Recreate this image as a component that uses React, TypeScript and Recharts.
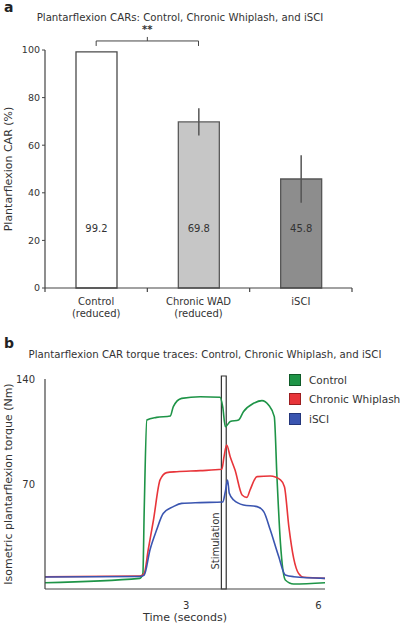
import React from 'react';
import {
  BarChart,
  Bar,
  Cell,
  ErrorBar,
  LabelList,
  LineChart,
  Line,
  XAxis,
  YAxis,
  ReferenceLine,
  ReferenceArea,
} from 'recharts';

const FONT = '"DejaVu Sans", sans-serif';

// panel a
const groups = ['Control', 'Chronic WAD', 'iSCI'];
const groupSub = ['(reduced)', '(reduced)', ''];
const carValues = [99.2, 69.8, 45.8];
const carErrors = [0, 5.7, 10];
const barFills = ['#ffffff', '#c6c6c6', '#8d8d8d'];
const barStrokes = ['#4a4a4a', '#5a5a5a', '#555555'];
const carTicks = [0, 20, 40, 60, 80, 100];

// panel b
const controlT = [-0.2, 1.95, 2.02, 2.05, 2.11, 2.33, 2.64, 2.71, 2.9, 3.32, 3.77, 3.83, 3.89, 4.0, 4.19, 4.3, 4.53, 4.72, 4.87, 5.0, 5.06, 5.14, 5.25, 5.44, 6.16];
const controlNm = [4.2, 7.1, 10.4, 52.7, 112.7, 114.4, 115.3, 121.6, 127.1, 128.2, 127.8, 121.6, 108.2, 111.6, 112.7, 118.2, 123.8, 125.6, 122.7, 114.9, 74.9, 30.4, 6.0, 3.3, 4.2];
const whiplashT = [-0.2, 1.95, 2.05, 2.14, 2.26, 2.41, 2.56, 2.79, 3.32, 3.81, 3.86, 3.92, 4.0, 4.11, 4.27, 4.38, 4.45, 4.61, 4.91, 5.14, 5.23, 5.33, 5.44, 5.55, 5.67, 6.16];
const whiplashNm = [8.2, 8.7, 10.4, 26, 46, 72.7, 77.6, 78.2, 78.9, 79.8, 88.2, 96, 88.2, 79.3, 62.7, 61.1, 66, 74.9, 75.3, 72.7, 68.2, 41.6, 20.4, 10.4, 7.8, 7.1];
const isciT = [-0.2, 1.95, 2.05, 2.18, 2.33, 2.48, 2.71, 2.9, 3.32, 3.83, 3.89, 3.94, 3.98, 4.08, 4.3, 4.61, 4.76, 4.91, 5.1, 5.25, 5.44, 6.16];
const isciNm = [8.0, 8.3, 9.3, 26, 39.3, 50.4, 54.9, 57.1, 57.6, 58, 64.9, 72.7, 63.8, 59.3, 56, 54.9, 51.6, 39.3, 21.6, 9.3, 8.2, 7.1];
const stimWindow = [3.8, 3.91];
const torqueTicks = [70, 140];
const timeTicks = [3, 6];

const seriesNames = ['Control', 'Chronic Whiplash', 'iSCI'];
const seriesColors = ['#1e9447', '#e8353a', '#3a55b0'];
const seriesBorders = ['#0f5a28', '#9a1e20', '#23367a'];

const barData = groups.map((g, i) => ({ group: g, value: carValues[i], err: carErrors[i] }));
const toSeries = (t: number[], v: number[]) => t.map((x, i) => ({ t: x, nm: v[i] }));
const traces = [toSeries(controlT, controlNm), toSeries(whiplashT, whiplashNm), toSeries(isciT, isciNm)];

// category label plus small tick marks on the group boundaries
function GroupTick(props: any) {
  const { x, y, payload, index, width, visibleTicksCount } = props;
  let half = payload && payload.offset > 0 ? payload.offset : 0;
  if (!half && width && visibleTicksCount) half = width / visibleTicksCount / 2;
  if (!half) half = 51;
  return (
    <g>
      {index === 0 && <line x1={x - half} y1={y} x2={x - half} y2={y + 4} stroke="#444" strokeWidth={1.2} />}
      <line x1={x + half} y1={y} x2={x + half} y2={y + 4} stroke="#444" strokeWidth={1.2} />
      <text x={x} y={y} textAnchor="middle" fill="#333" fontSize={10} fontFamily={FONT}>
        <tspan x={x} dy={17}>{payload.value}</tspan>
        <tspan x={x} dy={12}>{groupSub[index]}</tspan>
      </text>
    </g>
  );
}

function InnerLabel(props: any) {
  const { x, y, width, height, value } = props;
  const ly = y + height - height * (25 / value);
  return (
    <text x={x + width / 2} y={ly} textAnchor="middle" dominantBaseline="middle" fill="#333" fontSize={10} fontFamily={FONT}>
      {value}
    </text>
  );
}

function BraceLabel(props: any) {
  const vb = props.viewBox || {};
  const x1 = vb.x1 ?? vb.x;
  const x2 = vb.x2 ?? vb.x + vb.width;
  const y = vb.y1 ?? vb.y;
  const cx = (x1 + x2) / 2;
  return (
    <g>
      <line x1={x1} y1={y} x2={x1} y2={y + 5} stroke="#444" strokeWidth={1} />
      <line x1={x2} y1={y} x2={x2} y2={y + 5} stroke="#444" strokeWidth={1} />
      <line x1={cx} y1={y} x2={cx} y2={y - 4} stroke="#444" strokeWidth={1} />
      <text x={cx} y={y - 8} textAnchor="middle" fill="#333" fontSize={10} fontWeight="bold" fontFamily={FONT}>
        **
      </text>
    </g>
  );
}

function StimLabel(props: any) {
  const { x, y, height } = props.viewBox;
  const tx = x - 5;
  const ty = y + height - 48;
  return (
    <text x={tx} y={ty} transform={`rotate(-90 ${tx} ${ty})`} textAnchor="middle" dominantBaseline="middle" fill="#333" fontSize={10} fontFamily={FONT}>
      Stimulation
    </text>
  );
}

function TraceLegend() {
  return (
    <div style={{ fontFamily: FONT, fontSize: 10.5, color: '#333' }}>
      {seriesNames.map((n, i) => (
        <div key={n} style={{ display: 'flex', alignItems: 'center', height: 19.5, whiteSpace: 'nowrap' }}>
          <span
            style={{
              width: 10,
              height: 10,
              background: seriesColors[i],
              border: `1px solid ${seriesBorders[i]}`,
              marginRight: 8,
              display: 'inline-block',
            }}
          />
          {n}
        </div>
      ))}
    </div>
  );
}

export default function App() {
  return (
    <div style={{ position: 'absolute', left: 0, top: 0, width: 400, height: 626, background: '#fff', fontFamily: FONT }}>
      <div style={{ position: 'absolute', left: 0, top: 0 }}>
        <BarChart width={400} height={322} data={barData} margin={{ top: 50, right: 48, bottom: 4, left: 15 }} barCategoryGap="20%">
          <XAxis
            dataKey="group"
            height={30}
            tick={<GroupTick />}
            tickLine={false}
            tickSize={0}
            tickMargin={0}
            axisLine={{ stroke: '#444', strokeWidth: 1.2 }}
            interval={0}
          />
          <YAxis
            width={30}
            domain={[0, 100]}
            ticks={carTicks}
            tickSize={3}
            tickMargin={2}
            tick={{ fontSize: 9.5, fill: '#333', fontFamily: FONT }}
            axisLine={{ stroke: '#444', strokeWidth: 1.2 }}
            tickLine={{ stroke: '#444' }}
            label={{
              value: 'Plantarflexion CAR (%)',
              angle: -90,
              position: 'insideLeft',
              dx: -12,
              style: { fontSize: 11, fill: '#333', fontFamily: FONT, textAnchor: 'middle' },
            }}
          />
          <ReferenceLine
            segment={[
              { x: 'Control', y: 103.8 },
              { x: 'Chronic WAD', y: 103.8 },
            ]}
            stroke="#444"
            ifOverflow="visible"
            label={<BraceLabel />}
          />
          <Bar dataKey="value" barSize={41} isAnimationActive={false}>
            {barData.map((d, i) => (
              <Cell key={d.group} fill={barFills[i]} stroke={barStrokes[i]} strokeWidth={1.3} />
            ))}
            <ErrorBar dataKey="err" width={0} stroke="#555" strokeWidth={1.5} direction="y" />
            <LabelList dataKey="value" content={<InnerLabel />} />
          </Bar>
        </BarChart>
      </div>
      <div style={{ position: 'absolute', left: 4, top: 0, fontSize: 14, fontWeight: 'bold', color: '#222', lineHeight: '14px' }}>a</div>
      <div style={{ position: 'absolute', left: 0, top: 12, width: 360, textAlign: 'center', fontSize: 10.2, color: '#333' }}>
        Plantarflexion CARs: Control, Chronic Whiplash, and iSCI
      </div>

      <div style={{ position: 'absolute', left: 0, top: 320 }}>
        <LineChart width={400} height={306} margin={{ top: 59, right: 75, bottom: 7, left: 15 }}>
          <XAxis
            type="number"
            dataKey="t"
            domain={[-0.2, 6.15]}
            ticks={timeTicks}
            height={30}
            tickLine={false}
            tickMargin={7}
            tick={{ fontSize: 10, fill: '#333', fontFamily: FONT }}
            axisLine={{ stroke: '#444', strokeWidth: 1.2 }}
            allowDataOverflow
            label={{
              value: 'Time (seconds)',
              position: 'insideBottom',
              offset: -2,
              style: { fontSize: 11, fill: '#333', fontFamily: FONT },
            }}
          />
          <YAxis
            type="number"
            dataKey="nm"
            width={30}
            domain={[0, 140]}
            ticks={torqueTicks}
            tickLine={false}
            tickMargin={4}
            tick={{ fontSize: 10, fill: '#333', fontFamily: FONT }}
            axisLine={{ stroke: '#444', strokeWidth: 1.2 }}
            label={{
              value: 'Isometric plantarflexion torque (Nm)',
              angle: -90,
              position: 'insideLeft',
              dx: -12,
              style: { fontSize: 11, fill: '#333', fontFamily: FONT, textAnchor: 'middle' },
            }}
          />
          <ReferenceArea
            x1={stimWindow[0]}
            x2={stimWindow[1]}
            y1={0}
            y2={142}
            fill="#ffffff"
            fillOpacity={1}
            stroke="#333"
            strokeWidth={1.2}
            ifOverflow="visible"
            label={<StimLabel />}
          />
          {traces.map((d, i) => (
            <Line
              key={seriesNames[i]}
              data={d}
              dataKey="nm"
              name={seriesNames[i]}
              type="monotone"
              stroke={seriesColors[i]}
              strokeWidth={1.6}
              dot={false}
              isAnimationActive={false}
            />
          ))}
        </LineChart>
      </div>
      <div style={{ position: 'absolute', left: 4, top: 336, fontSize: 14, fontWeight: 'bold', color: '#222', lineHeight: '14px' }}>b</div>
      <div style={{ position: 'absolute', left: 0, top: 349, width: 410, textAlign: 'center', fontSize: 10.2, color: '#333' }}>
        Plantarflexion CAR torque traces: Control, Chronic Whiplash, and iSCI
      </div>
      <div style={{ position: 'absolute', left: 289, top: 370 }}>
        <TraceLegend />
      </div>
    </div>
  );
}
